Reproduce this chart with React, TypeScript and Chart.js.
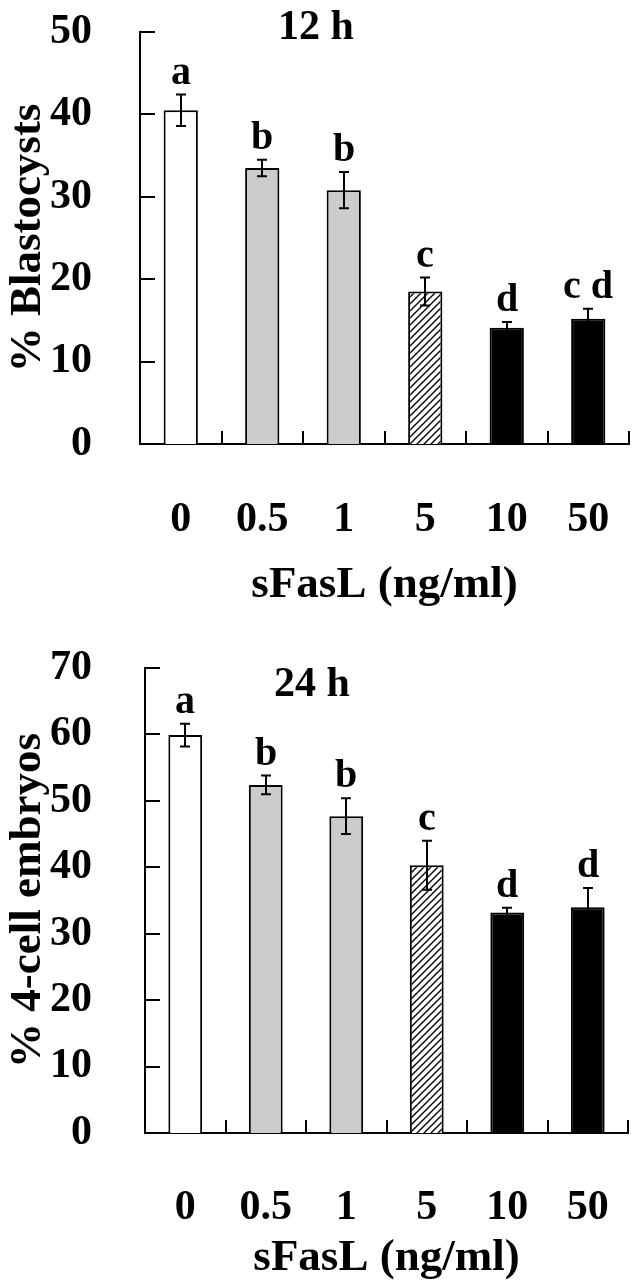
import React, { useEffect, useRef } from 'react';
import { Chart, registerables } from 'chart.js';

Chart.register(...registerables);

// ---------- data ----------
const doses = ['0', '0.5', '1', '5', '10', '50'];

const blastMeans = [40.5, 33.5, 30.8, 18.5, 14.1, 15.2];
const blastErrors = [1.9, 1.0, 2.2, 1.7, 0.7, 1.2];
const blastLetters = ['a', 'b', 'b', 'c', 'd', 'c d'];
const blastTicks = [0, 10, 20, 30, 40, 50];

const cellMeans = [59.9, 52.4, 47.7, 40.3, 33.2, 34.0];
const cellErrors = [1.7, 1.4, 2.7, 3.7, 0.7, 2.9];
const cellLetters = ['a', 'b', 'b', 'c', 'd', 'd'];
const cellTicks = [0, 10, 20, 30, 40, 50, 60, 70];

const FONT = "'Liberation Serif', 'Times New Roman', serif";

type Cfg = {
  means: number[];
  errors: number[];
  letters: string[];
  yTicks: number[];
  max: number;
  padTop: number;
  padRight: number;
  xHeight: number;
  yWidth: number;
  xPad: number;
  yPad: number;
  title: string;
  titleX: number;
  titleBase: number;
  yTitle: string;
  yTitleBase: number;
  xTitle: string;
  xTitleBase: number;
};

function hatch(ctx: CanvasRenderingContext2D): CanvasPattern | string {
  const c = document.createElement('canvas');
  const n = 7;
  c.width = n;
  c.height = n;
  const g = c.getContext('2d');
  if (!g) return '#ffffff';
  g.fillStyle = '#ffffff';
  g.fillRect(0, 0, n, n);
  g.strokeStyle = '#000000';
  g.lineWidth = 1.4;
  g.beginPath();
  g.moveTo(-1, n + 1);
  g.lineTo(n + 1, -1);
  g.moveTo(-1, 1);
  g.lineTo(1, -1);
  g.moveTo(n - 1, n + 1);
  g.lineTo(n + 1, n - 1);
  g.stroke();
  return ctx.createPattern(c, 'repeat') || '#ffffff';
}

function decoPlugin(cfg: Cfg) {
  return {
    id: 'deco',
    afterDatasetsDraw(chart: any) {
      const ctx: CanvasRenderingContext2D = chart.ctx;
      const a = chart.chartArea;
      const xs = chart.scales.x;
      const ys = chart.scales.y;
      ctx.save();
      ctx.strokeStyle = '#000';
      ctx.fillStyle = '#000';
      ctx.lineWidth = 2;
      // inward y ticks
      cfg.yTicks.forEach((v) => {
        const py = Math.round(ys.getPixelForValue(v));
        ctx.beginPath();
        ctx.moveTo(a.left, py);
        ctx.lineTo(a.left + 15, py);
        ctx.stroke();
      });
      // inward x ticks at category boundaries
      const step = xs.width / doses.length;
      doses.forEach((_, i) => {
        const px = Math.round(xs.getPixelForValue(i) + step / 2);
        ctx.beginPath();
        ctx.moveTo(px, a.bottom);
        ctx.lineTo(px, a.bottom - 13);
        ctx.stroke();
      });
      // error bars + letters
      ctx.font = `bold 40px ${FONT}`;
      ctx.textAlign = 'center';
      ctx.textBaseline = 'alphabetic';
      cfg.means.forEach((m, i) => {
        const px = Math.round(xs.getPixelForValue(i));
        const t = ys.getPixelForValue(m + cfg.errors[i]);
        const b = ys.getPixelForValue(m - cfg.errors[i]);
        ctx.beginPath();
        ctx.moveTo(px, t);
        ctx.lineTo(px, b);
        ctx.moveTo(px - 5, t);
        ctx.lineTo(px + 5, t);
        ctx.moveTo(px - 5, b);
        ctx.lineTo(px + 5, b);
        ctx.stroke();
        ctx.fillText(cfg.letters[i], px, t - 11);
      });
      // panel title
      ctx.font = `bold 42px ${FONT}`;
      ctx.fillText(cfg.title, cfg.titleX, cfg.titleBase);
      // x title
      ctx.font = `bold 45px ${FONT}`;
      ctx.fillText(cfg.xTitle, (a.left + a.right) / 2, cfg.xTitleBase);
      // y title
      ctx.translate(cfg.yTitleBase, (a.top + a.bottom) / 2);
      ctx.rotate(-Math.PI / 2);
      ctx.fillText(cfg.yTitle, 0, 0);
      ctx.restore();
    },
  };
}

function zeroPad(s: any) {
  s.paddingTop = 0;
  s.paddingBottom = 0;
  s.paddingLeft = 0;
  s.paddingRight = 0;
}

function makeChart(canvas: HTMLCanvasElement, cfg: Cfg) {
  const ctx = canvas.getContext('2d') as CanvasRenderingContext2D;
  const fills = ['#ffffff', '#cccccc', '#cccccc', hatch(ctx), '#000000', '#000000'];
  const tickFont = { family: FONT, size: 42, weight: 'bold' as const };
  return new Chart(canvas, {
    type: 'bar',
    data: {
      labels: doses,
      datasets: [
        {
          data: cfg.means,
          backgroundColor: fills as any,
          borderColor: '#000000',
          borderWidth: 2,
          barPercentage: 0.42,
          categoryPercentage: 1,
        },
      ],
    },
    options: {
      responsive: false,
      animation: false,
      devicePixelRatio: 1,
      layout: {
        autoPadding: false,
        padding: { top: cfg.padTop, right: cfg.padRight, left: 0, bottom: 0 },
      },
      plugins: {
        legend: { display: false },
        tooltip: { enabled: false },
        title: { display: false },
      },
      scales: {
        x: {
          type: 'category',
          offset: true,
          grid: { display: false },
          border: { display: true, color: '#000000', width: 2 },
          ticks: {
            color: '#000000',
            font: tickFont,
            padding: cfg.xPad,
            maxRotation: 0,
            autoSkip: false,
          },
          afterFit: (s: any) => {
            s.height = cfg.xHeight;
            zeroPad(s);
          },
        },
        y: {
          type: 'linear',
          min: 0,
          max: cfg.max,
          grid: { display: false },
          border: { display: true, color: '#000000', width: 2 },
          ticks: {
            stepSize: 10,
            color: '#000000',
            font: tickFont,
            padding: cfg.yPad,
            autoSkip: false,
          },
          afterFit: (s: any) => {
            s.width = cfg.yWidth;
            zeroPad(s);
          },
        },
      },
    } as any,
    plugins: [decoPlugin(cfg) as any],
  });
}

const topCfg: Cfg = {
  means: blastMeans,
  errors: blastErrors,
  letters: blastLetters,
  yTicks: blastTicks,
  max: 50,
  padTop: 32,
  padRight: 10,
  xHeight: 196,
  yWidth: 140,
  xPad: 43,
  yPad: 40,
  title: '12 h',
  titleX: 316,
  titleBase: 39,
  yTitle: '% Blastocysts',
  yTitleBase: 40,
  xTitle: 'sFasL (ng/ml)',
  xTitleBase: 597,
};

const bottomCfg: Cfg = {
  means: cellMeans,
  errors: cellErrors,
  letters: cellLetters,
  yTicks: cellTicks,
  max: 70,
  padTop: 28,
  padRight: 11,
  xHeight: 153,
  yWidth: 145,
  xPad: 42,
  yPad: 45,
  title: '24 h',
  titleX: 312,
  titleBase: 56,
  yTitle: '% 4-cell embryos',
  yTitleBase: 40,
  xTitle: 'sFasL (ng/ml)',
  xTitleBase: 630,
};

export default function App() {
  const topRef = useRef<HTMLCanvasElement>(null);
  const botRef = useRef<HTMLCanvasElement>(null);

  useEffect(() => {
    const charts: Chart[] = [];
    if (topRef.current) charts.push(makeChart(topRef.current, topCfg));
    if (botRef.current) charts.push(makeChart(botRef.current, bottomCfg));
    return () => charts.forEach((c) => c.destroy());
  }, []);

  return (
    <div
      style={{
        position: 'absolute',
        left: 0,
        top: 0,
        width: 639,
        height: 1286,
        background: '#ffffff',
      }}
    >
      <canvas ref={topRef} width={639} height={640} style={{ display: 'block', width: 639, height: 640 }} />
      <canvas ref={botRef} width={639} height={646} style={{ display: 'block', width: 639, height: 646 }} />
    </div>
  );
}
